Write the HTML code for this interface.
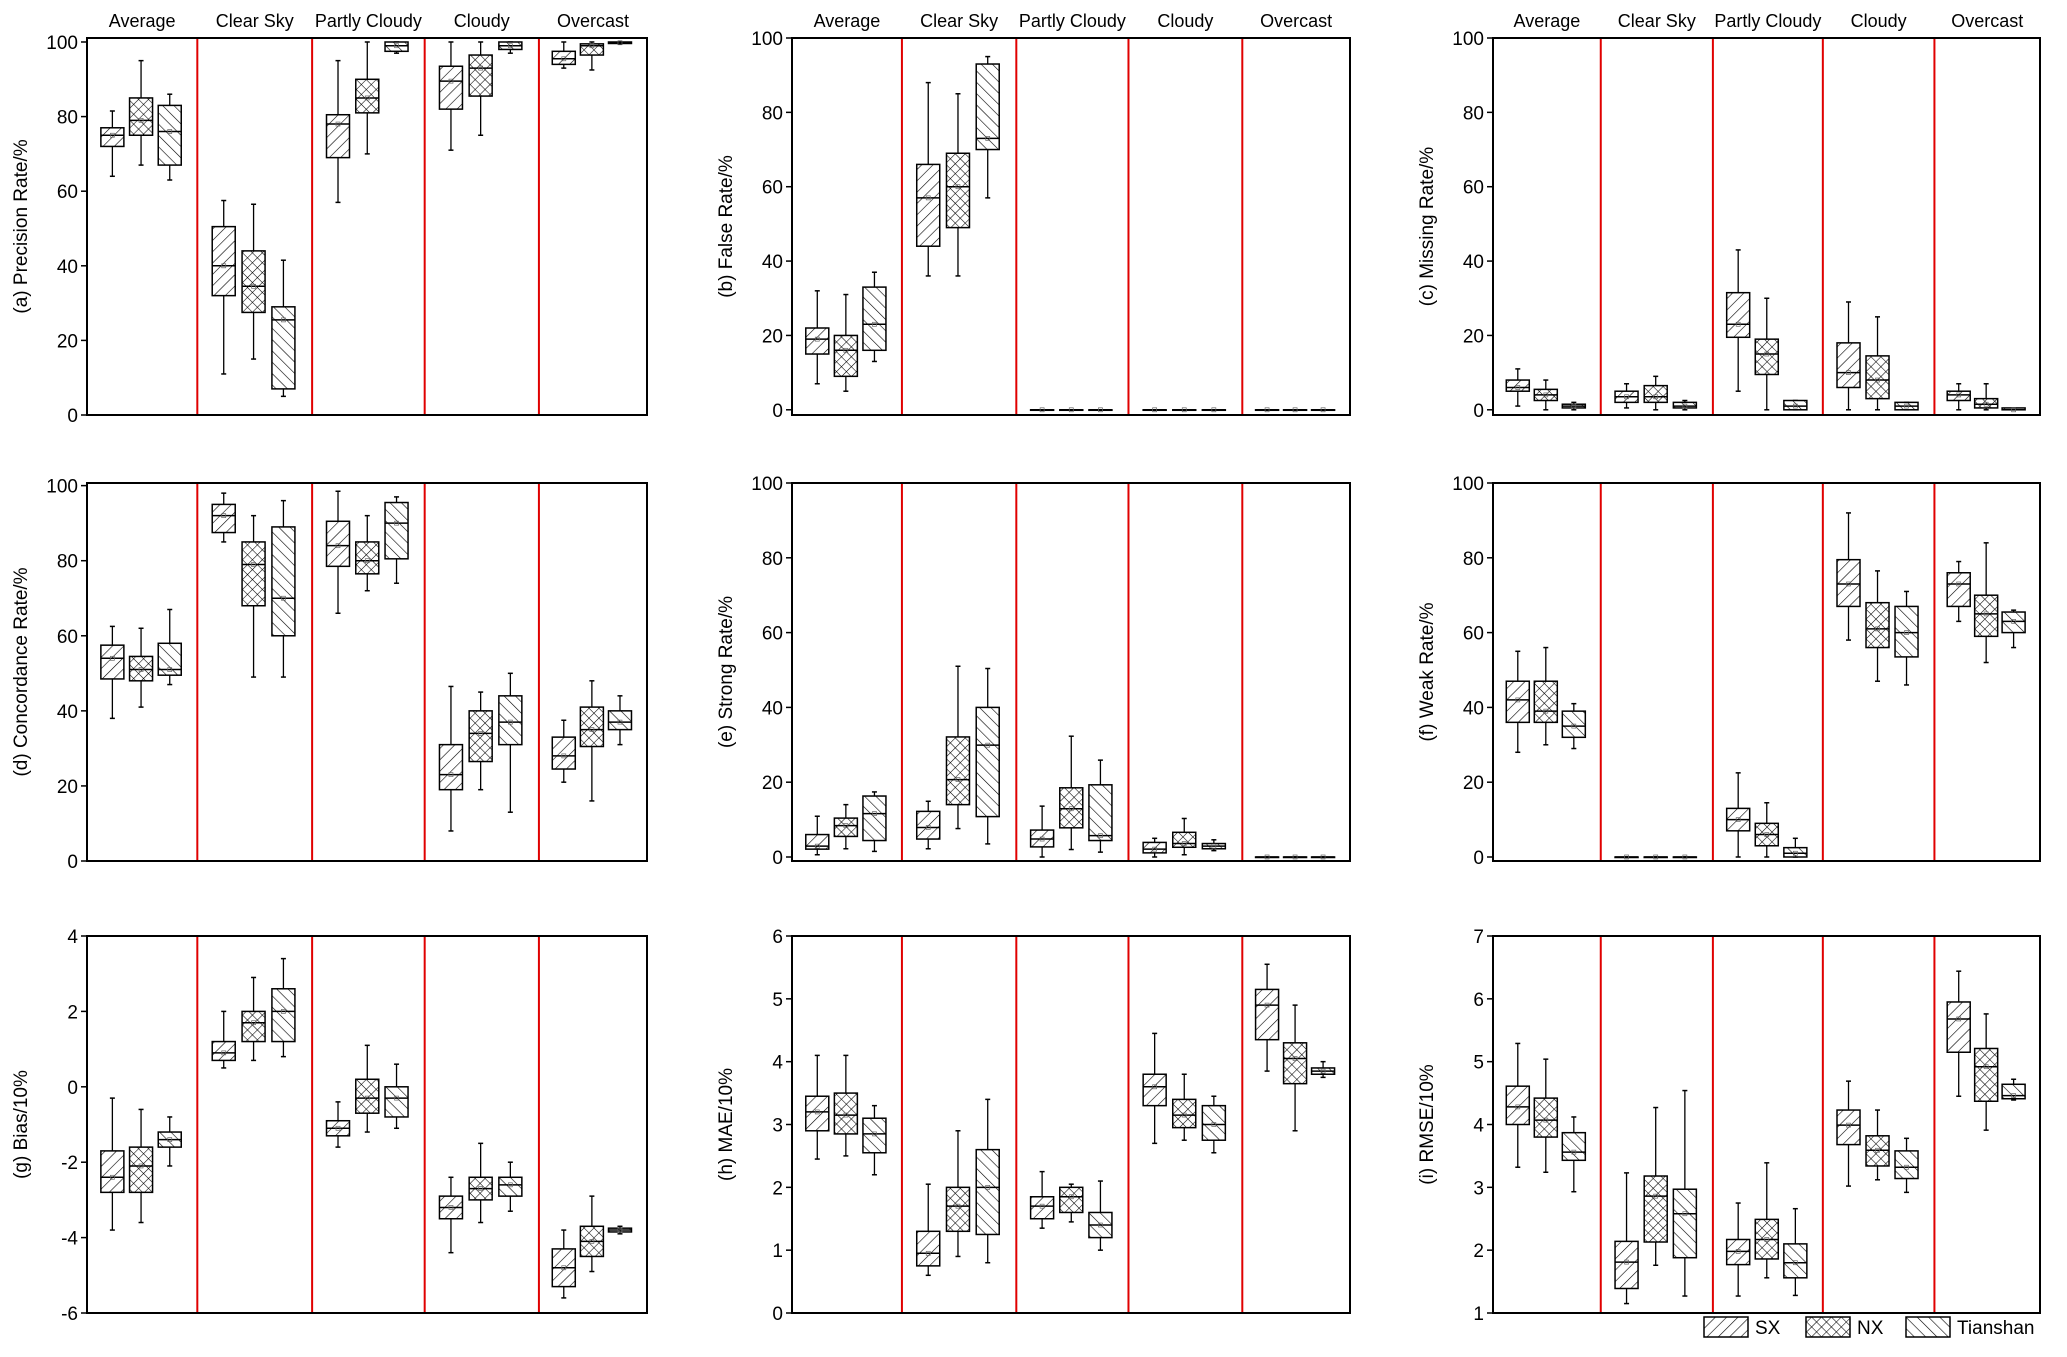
<!DOCTYPE html>
<html><head><meta charset="utf-8"><style>
html,body{margin:0;padding:0;background:#fff}
svg{display:block;font-family:"Liberation Sans",Arial,sans-serif}
</style></head><body>
<svg id="chart" xmlns="http://www.w3.org/2000/svg" width="2067" height="1357" viewBox="0 0 2067 1357">
<defs>
<pattern id="pSX" patternUnits="userSpaceOnUse" width="8" height="8" patternTransform="rotate(45)"><rect width="8" height="8" fill="#fff"/><line x1="0" y1="0" x2="0" y2="8" stroke="#000" stroke-width="1.2"/></pattern>
<pattern id="pTS" patternUnits="userSpaceOnUse" width="8" height="8" patternTransform="rotate(-45)"><rect width="8" height="8" fill="#fff"/><line x1="0" y1="0" x2="0" y2="8" stroke="#000" stroke-width="1.2"/></pattern>
<pattern id="pNX" patternUnits="userSpaceOnUse" width="7" height="7" patternTransform="rotate(45)"><rect width="7" height="7" fill="#fff"/><line x1="0" y1="0" x2="0" y2="7" stroke="#000" stroke-width="1.1"/><line x1="0" y1="0" x2="7" y2="0" stroke="#000" stroke-width="1.1"/></pattern>
</defs>
<g id="root"></g>
</svg>
<script>
const groups = ["Average","Clear Sky","Partly Cloudy","Cloudy","Overcast"];
const seriesNames = ["SX","NX","Tianshan"];
const panelLabels = ["(a) Precision Rate/%","(b) False Rate/%","(c) Missing Rate/%","(d) Concordance Rate/%","(e) Strong Rate/%","(f) Weak Rate/%","(g) Bias/10%","(h) MAE/10%","(i) RMSE/10%"];
const tickA = [0,20,40,60,80,100];
const tickG = [-6,-4,-2,0,2,4];
const tickH = [0,1,2,3,4,5,6];
const tickI = [1,2,3,4,5,6,7];
const Z = [0,0,0,0,0];
// each box: [low, q1, median, q3, high]
const dataA = [[[64,72,75,77,81.5],[67,75,79,85,95],[63,67,76,83,86]],[[11,32,40,50.5,57.5],[15,27.5,34.5,44,56.5],[5,7,25.5,29,41.5]],[[57,69,78,80.5,95],[70,81,85,90,100],[97,97.5,99,100,100]],[[71,82,89.5,93.5,100],[75,85.5,93,96.5,100],[97,98,99,100,100]],[[93,94,95.5,97.5,100],[92.5,96.5,99,99.5,100],[99.5,99.6,99.8,100,100]]];
const dataB = [[[7,15,19,22,32],[5,9,16,20,31],[13,16,23,33,37]],[[36,44,57,66,88],[36,49,60,69,85],[57,70,73,93,95]],[Z,Z,Z],[Z,Z,Z],[Z,Z,Z]];
const dataC = [[[1,5,6,8,11],[0,2.5,4,5.5,8],[0,0.5,1,1.5,2]],[[0.5,2,3.5,5,7],[0,2,3.5,6.5,9],[0,0.5,1,2,2.5]],[[5,19.5,23,31.5,43],[0,9.5,15,19,30],[0,0,1,2.5,2.5]],[[0,6,10,18,29],[0,3,8,14.5,25],[0,0,1,2,2]],[[0,2.5,4,5,7],[0,0.5,1.5,3,7],[0,0,0,0.5,0.5]]];
const dataD = [[[38,48.5,54,57.5,62.5],[41,48,51,54.5,62],[47,49.5,51,58,67]],[[85,87.5,92,95,98],[49,68,79,85,92],[49,60,70,89,96]],[[66,78.5,84,90.5,98.5],[72,76.5,80,85,92],[74,80.5,90,95.5,97]],[[8,19,23,31,46.5],[19,26.5,34,40,45],[13,31,37,44,50]],[[21,24.5,28,33,37.5],[16,30.5,35,41,48],[31,35,37,40,44]]];
const dataE = [[[0.6,2.1,2.9,6,10.9],[2.2,5.5,8.4,10.4,14],[1.5,4.4,11.6,16.3,17.4]],[[2.2,4.8,7.9,12.2,14.9],[7.6,14,20.7,32.1,51],[3.5,10.8,29.9,40,50.4]],[[0,2.7,4.8,7.2,13.6],[2,7.8,12.9,18.5,32.3],[1.3,4.4,5.7,19.3,25.9]],[[0,1.1,2.1,3.9,5],[0.6,2.6,3.6,6.6,10.3],[1.7,2.2,2.9,3.6,4.6]],[Z,Z,Z]];
const dataF = [[[28,36,42,47,55],[30,36,39,47,56],[29,32,35,39,41]],[Z,Z,Z],[[0,7,10,13,22.5],[0,3,6,9,14.5],[0,0,1,2.5,5]],[[58,67,73,79.5,92],[47,56,61,68,76.5],[46,53.5,60,67,71]],[[63,67,73,76,79],[52,59,65,70,84],[56,60,63,65.5,66]]];
const dataG = [[[-3.8,-2.8,-2.4,-1.7,-0.3],[-3.6,-2.8,-2.1,-1.6,-0.6],[-2.1,-1.6,-1.4,-1.2,-0.8]],[[0.5,0.7,0.9,1.2,2.0],[0.7,1.2,1.7,2.0,2.9],[0.8,1.2,2.0,2.6,3.4]],[[-1.6,-1.3,-1.1,-0.9,-0.4],[-1.2,-0.7,-0.3,0.2,1.1],[-1.1,-0.8,-0.3,0.0,0.6]],[[-4.4,-3.5,-3.2,-2.9,-2.4],[-3.6,-3.0,-2.7,-2.4,-1.5],[-3.3,-2.9,-2.6,-2.4,-2.0]],[[-5.6,-5.3,-4.8,-4.3,-3.8],[-4.9,-4.5,-4.1,-3.7,-2.9],[-3.9,-3.85,-3.8,-3.75,-3.7]]];
const dataH = [[[2.45,2.9,3.2,3.45,4.1],[2.5,2.85,3.15,3.5,4.1],[2.2,2.55,2.85,3.1,3.3]],[[0.6,0.75,0.95,1.3,2.05],[0.9,1.3,1.7,2.0,2.9],[0.8,1.25,2.0,2.6,3.4]],[[1.35,1.5,1.7,1.85,2.25],[1.45,1.6,1.85,2.0,2.05],[1.0,1.2,1.4,1.6,2.1]],[[2.7,3.3,3.6,3.8,4.45],[2.75,2.95,3.15,3.4,3.8],[2.55,2.75,3.0,3.3,3.45]],[[3.85,4.35,4.9,5.15,5.55],[2.9,3.65,4.05,4.3,4.9],[3.75,3.8,3.85,3.9,4.0]]];
const dataI = [[[3.32,4.0,4.28,4.61,5.29],[3.24,3.8,4.07,4.42,5.04],[2.93,3.43,3.56,3.87,4.12]],[[1.15,1.39,1.81,2.14,3.23],[1.76,2.13,2.86,3.18,4.27],[1.27,1.88,2.58,2.97,4.54]],[[1.27,1.77,1.98,2.17,2.75],[1.56,1.86,2.17,2.49,3.39],[1.28,1.56,1.8,2.1,2.66]],[[3.02,3.68,3.99,4.23,4.69],[3.12,3.34,3.59,3.82,4.23],[2.92,3.14,3.32,3.58,3.78]],[[4.45,5.15,5.68,5.95,6.44],[3.91,4.37,4.92,5.21,5.76],[4.39,4.41,4.46,4.64,4.72]]];

const NS="http://www.w3.org/2000/svg";
const root=document.getElementById('root');
function mk(tag,attrs,parent){const e=document.createElementNS(NS,tag);for(const k in attrs)e.setAttribute(k,attrs[k]);(parent||root).appendChild(e);return e;}
const cols=[[87,647],[792,1350],[1493,2040]];
const rows=[[38,415],[483,861],[936,1313]];
const doms=[[0,101.07],[-1.4,100],[-1.4,100],[0,100.7],[-1.07,100],[-1.07,100],[-6,4],[0,6],[1,7]];
const allData=[dataA,dataB,dataC,dataD,dataE,dataF,dataG,dataH,dataI];
const allTicks=[tickA,tickA,tickA,tickA,tickA,tickA,tickG,tickH,tickI];
const sepFr=[0,0.197,0.402,0.603,0.807,1];
const boxFr=[0.23,0.49,0.75];
const pats=["url(#pSX)","url(#pNX)","url(#pTS)"];
for(let p=0;p<9;p++){
  const [x0,x1]=cols[p%3],[y0,y1]=rows[Math.floor(p/3)];
  const [dmin,dmax]=doms[p];
  const Y=v=>y1-(v-dmin)/(dmax-dmin)*(y1-y0);
  const g=mk('g',{});
  
  
  for(let s=1;s<5;s++){const sx=x0+sepFr[s]*(x1-x0);
    const l=mk('line',{x1:sx,x2:sx,y1:y0,y2:y1,stroke:'#e00000','stroke-width':2},g);
    
    }
  allTicks[p].forEach(t=>{const ty=Y(t);
    mk('line',{x1:x0-6,x2:x0,y1:ty,y2:ty,stroke:'#000','stroke-width':1.5},g);
    const tx=mk('text',{x:x0-9,y:ty+7,'text-anchor':'end','font-size':19},g);
    tx.textContent=t;
    
    });
  const lx=x0-60,ly=(y0+y1)/2;
  const yl=mk('text',{x:lx,y:ly,'text-anchor':'middle','font-size':19,transform:`rotate(-90 ${lx} ${ly})`},g);
  yl.textContent=panelLabels[p];
  
  
  for(let gi=0;gi<5;gi++){
    const gx0=x0+sepFr[gi]*(x1-x0),gw=(sepFr[gi+1]-sepFr[gi])*(x1-x0);
    if(p<3){const tt=mk('text',{x:gx0+gw/2,y:y0-11,'text-anchor':'middle','font-size':18},g);
      tt.textContent=groups[gi];
      
      }
    for(let si=0;si<3;si++){
      const d=allData[p][gi][si];const cx=gx0+boxFr[si]*gw,bw=23;
      const bg=mk('g',{},g);
      
      
      mk('line',{x1:cx,x2:cx,y1:Y(d[0]),y2:Y(d[4]),stroke:'#000','stroke-width':1.3},bg);
      mk('line',{x1:cx-2.5,x2:cx+2.5,y1:Y(d[0]),y2:Y(d[0]),stroke:'#000','stroke-width':1.5},bg);
      mk('line',{x1:cx-2.5,x2:cx+2.5,y1:Y(d[4]),y2:Y(d[4]),stroke:'#000','stroke-width':1.5},bg);
      mk('rect',{x:cx-bw/2,y:Y(d[3]),width:bw,height:Math.max(Y(d[1])-Y(d[3]),0.5),fill:pats[si],stroke:'#000','stroke-width':1.5},bg);
      mk('line',{x1:cx-bw/2,x2:cx+bw/2,y1:Y(d[2]),y2:Y(d[2]),stroke:'#000','stroke-width':1.5},bg);
      mk('rect',{x:cx-2,y:Y(d[2])-2,width:4,height:4,fill:'none',stroke:'#666','stroke-width':0.7},bg);
    }
  }
  const fr=mk('rect',{x:x0,y:y0,width:x1-x0,height:y1-y0,fill:'none',stroke:'#000','stroke-width':2},g);
  
  
}
const legX=[1704,1806,1906];
for(let si=0;si<3;si++){
  const lg=mk('g',{});
  
  
  mk('rect',{x:legX[si],y:1317,width:44,height:20,fill:pats[si],stroke:'#000','stroke-width':1.5},lg);
  const t=mk('text',{x:legX[si]+51,y:1334,'font-size':19},lg);
  t.textContent=seriesNames[si];
}
</script>
</body></html>
